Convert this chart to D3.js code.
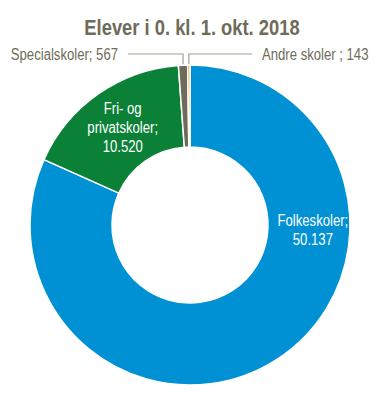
<!DOCTYPE html>
<html>
<head>
<meta charset="utf-8">
<script src="https://cdn.jsdelivr.net/npm/d3@7"></script>
<style>
  body { margin: 0; background: #fff; }
  svg { display: block; font-family: "Liberation Sans", Arial, sans-serif; }
</style>
</head>
<body>
<svg id="chart" width="384" height="393"></svg>
<script>
const categories = ["Folkeskoler", "Fri- og privatskoler", "Specialskoler", "Andre skoler"];
const values = [50137, 10520, 567, 143];
const valueLabels = ["50.137", "10.520", "567", "143"];
const colors = ["#0091d5", "#0b8137", "#6f6b5b", "#ee8a2c"];

const width = 384, height = 393;
const cx = 190, cy = 225, outerR = 160, innerR = 78;
const narrow = 0.82; // fake Arial Narrow by squeezing glyphs

const svg = d3.select("#chart");

// squeezed text helper: returns a <text> placed at (x, y)
function narrowText(parent, x, y, sx) {
  return parent.append("g")
    .attr("transform", `translate(${x},${y}) scale(${sx},1)`)
    .append("text");
}

narrowText(svg, 192, 35, 0.835)
  .attr("text-anchor", "middle")
  .attr("font-size", 22).attr("font-weight", "bold")
  .attr("fill", "#6e6b58")
  .text("Elever i 0. kl. 1. okt. 2018");

const data = categories.map((c, i) => ({ name: c, value: values[i], label: valueLabels[i], color: colors[i] }));

const pie = d3.pie().value(d => d.value).sort(null);
const arcs = pie(data);
const arc = d3.arc().innerRadius(innerR).outerRadius(outerR);

const g = svg.append("g").attr("transform", `translate(${cx},${cy})`);

g.selectAll("path")
  .data(arcs)
  .join("path")
  .attr("d", arc)
  .attr("fill", d => d.data.color)
  .attr("stroke", "#fff")
  .attr("stroke-width", 1.5);

// inside labels
const inside = [
  { i: 0, lines: ["Folkeskoler;", "50.137"], angle: Math.PI * 0.515, r: 122 },
  { i: 1, lines: ["Fri- og", "privatskoler;", "10.520"], angle: null, r: null }
];
inside.forEach(l => {
  const a = arcs[l.i];
  let p;
  if (l.angle === null) p = arc.centroid(a);
  else p = [l.r * Math.sin(l.angle), -l.r * Math.cos(l.angle)];
  const t = narrowText(g, p[0] + 1, p[1], narrow)
    .attr("text-anchor", "middle")
    .attr("fill", "#fff")
    .attr("font-size", 16);
  const n = l.lines.length;
  l.lines.forEach((s, k) => {
    t.append("tspan")
      .attr("x", 0)
      .attr("y", (k - (n - 1) / 2) * 19 + 5)
      .text(s);
  });
});

// outside labels with leader lines
const outside = [
  { i: 2, dir: -1, xEnd: -62, text: "Specialskoler; 567" },
  { i: 3, dir: 1, xEnd: 62, text: "Andre skoler ; 143" }
];
const lineY = -171;
outside.forEach(l => {
  const a = arcs[l.i];
  const mid = (a.startAngle + a.endAngle) / 2;
  const x0 = outerR * Math.sin(mid);
  const y0 = -outerR * Math.cos(mid) - 1;
  g.append("polyline")
    .attr("points", [[x0, y0], [x0, lineY], [l.xEnd, lineY]].map(p => p.join(",")).join(" "))
    .attr("fill", "none")
    .attr("stroke", "#a39f90")
    .attr("stroke-width", 1.2);
  narrowText(g, l.xEnd + l.dir * 10, lineY + 6, narrow)
    .attr("text-anchor", l.dir < 0 ? "end" : "start")
    .attr("font-size", 16)
    .attr("fill", "#6e6b58")
    .text(l.text);
});
</script>
</body>
</html>
